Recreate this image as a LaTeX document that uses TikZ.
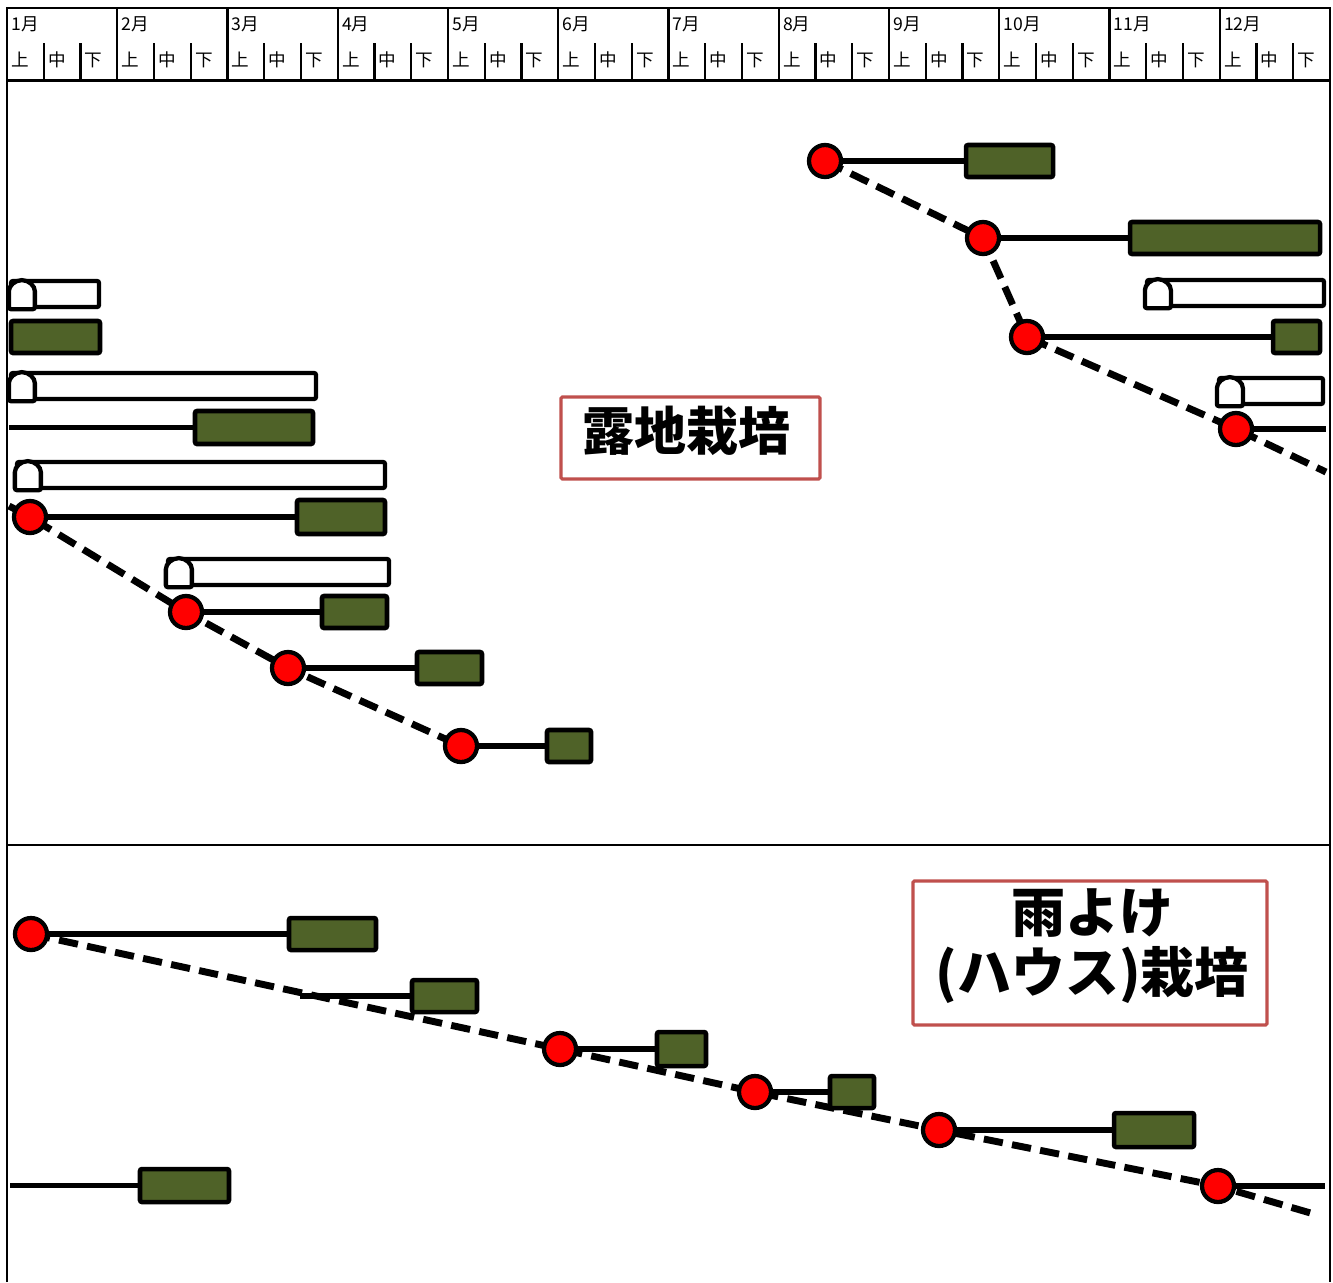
\documentclass[tikz,border=0pt]{standalone}
\usepackage{fontspec}
\newfontfamily\jp{Noto Sans CJK JP}
\usetikzlibrary{fit}
\definecolor{leaf}{RGB}{79,98,40}
\definecolor{labred}{RGB}{192,80,77}
\pgfdeclarelayer{back}
\pgfdeclarelayer{bg}
\pgfsetlayers{back,bg,main}
\newcommand\tunnelshape[5]{%
  \node[tun, fit={(#2,#3) (#4,#5)}] (#1) {};
  \draw[tun] (#1.south west) -- ++(0,-16) arc[start angle=180, end angle=0, radius=9.75pt] -- ++(0,16) -- cycle;
}
\begin{document}
\begin{tikzpicture}[x=0.75pt,y=-0.75pt,
  frame/.style={line width=1.5pt},
  gbox/.style={draw=black, fill=leaf, line width=3.4pt, rounded corners=1.5pt, inner sep=0pt},
  tun/.style={draw=black, fill=white, line width=3.2pt, rounded corners=1.5pt, inner sep=0pt},
  sow/.style={circle, draw=black, fill=red, line width=3.2pt, minimum size=24pt, inner sep=0pt},
  growline/.style={line width=4.4pt},
  seqline/.style={line width=5.2pt, dash pattern=on 14.5pt off 7pt},
  mlab/.style={anchor=west, inner sep=0pt, font=\jp\fontsize{13.2}{13.2}\selectfont},
  lab/.style={draw=labred, line width=2.4pt, rounded corners=1pt, inner sep=0pt},
  labtext/.style={font=\jp\bfseries\fontsize{39}{47}\selectfont, align=center, inner sep=0pt},
  labtextb/.style={font=\jp\bfseries\fontsize{40.5}{47}\selectfont, align=center, inner sep=0pt}
]
\useasboundingbox (0,0) rectangle (1333,1282);
\begin{pgfonlayer}{back}
\fill[white] (0,0) rectangle (1333,1282);
\end{pgfonlayer}
% frame and header
\draw[frame] (7,1282) -- (7,8) -- (1330,8) -- (1330,1282);
\draw[line width=2.25pt] (7,80) -- (1330,80);
\draw[line width=1.2pt] (7,845) -- (1330,845);
\foreach \m in {1,...,12}{
  \pgfmathsetmacro\xm{7+(\m-1)*110.25}
  \ifnum\m>1 \draw[line width=1.6pt] (\xm,8) -- (\xm,80); \fi
  \draw[line width=1.6pt] (\xm+36.75,43) -- (\xm+36.75,81);
  \draw[line width=1.6pt] (\xm+73.5,43) -- (\xm+73.5,81);
  \node[mlab] (mon\m) at (\xm+4,24) {{\m}月};
  \node[mlab] (up\m) at (\xm+4,60) {上};
  \node[mlab] (mid\m) at (\xm+40.75,60) {中};
  \node[mlab] (low\m) at (\xm+77.5,60) {下};
}
% ---------- open field (top) ----------
% right group
\node[sow] (c1) at (825,161) {};
\node[gbox, fit={(966,145) (1053,177)}] (b1) {};
\node[sow] (c2) at (983,238) {};
\node[gbox, fit={(1130,222) (1320,254)}] (b2) {};
\tunnelshape{tr1}{1147}{280}{1324}{306}
\node[sow] (c3) at (1027,337) {};
\node[gbox, fit={(1273,321) (1320,353)}] (b3) {};
\tunnelshape{tr2}{1219}{378}{1323}{404}
\node[sow] (c4) at (1236,429) {};
\coordinate (e4) at (1326,429);
\coordinate (d1) at (1326,472);
% left group
\tunnelshape{tl1}{11}{281}{99}{307}
\node[gbox, fit={(11,321) (100,353)}] (gb0) {};
\tunnelshape{tl2}{11}{373}{316}{399}
\coordinate (s1) at (9,427.5);
\node[gbox, fit={(195,411) (313,444)}] (b5) {};
\tunnelshape{tl3}{17}{462}{385}{488}
\node[sow] (c5) at (30,517) {};
\node[gbox, fit={(297,500) (385,534)}] (b6) {};
\tunnelshape{tl4}{168}{559}{389}{585}
\node[sow] (c6) at (186,612) {};
\node[gbox, fit={(322,596) (387,628)}] (b7) {};
\node[sow] (c7) at (288,668) {};
\node[gbox, fit={(417,652) (482,684)}] (b8) {};
\node[sow] (c8) at (461,746) {};
\node[gbox, fit={(547,730) (591,762)}] (b9) {};
\coordinate (d0) at (9,506);
% label
\node[lab, fit={(561,397) (820,479)}] (lab1) {};
\node[labtext] (lab1t) at (686,431) {露地栽培};
% ---------- rain shelter (bottom) ----------
\node[sow] (c9) at (31,934) {};
\node[gbox, fit={(289,918) (376,950)}] (b10) {};
\coordinate (s2) at (300,996);
\node[gbox, fit={(412,980) (477,1012)}] (b11) {};
\node[sow] (c10) at (560,1049) {};
\node[gbox, fit={(657,1032) (706,1066)}] (b12) {};
\node[sow] (c11) at (755,1092) {};
\node[gbox, fit={(830,1076) (874,1108)}] (b13) {};
\node[sow] (c12) at (939,1130) {};
\node[gbox, fit={(1114,1113) (1194,1147)}] (b14) {};
\node[sow] (c13) at (1218,1186) {};
\coordinate (e13) at (1325,1186);
\coordinate (s3) at (10,1185.5);
\node[gbox, fit={(140,1169) (229,1202)}] (b15) {};
\coordinate (d2) at (1314,1214);
\node[lab, fit={(913,881) (1267,1025)}] (lab2) {};
\node[labtextb] (lab2a) at (1092,913) {雨よけ};
\node[labtextb] (lab2b) at (1092,975) {(ハウス)栽培};
% ---------- connectors ----------
\begin{pgfonlayer}{bg}
  \draw[seqline] (c1.center) -- (c2.center) -- (c3.center) -- (c4.center) -- (d1);
  \draw[seqline] (d0) -- (c5.center) -- (c6.center) -- (c7.center) -- (c8.center);
  \draw[seqline] (c9.center) -- (c10.center) -- (c11.center) -- (c12.center) -- (c13.center) -- (d2);
  \draw[growline] (c1) -- (b1);
  \draw[growline] (c2) -- (b2);
  \draw[growline] (c3) -- (b3);
  \draw[growline] (c4) -- (e4);
  \draw[growline] (s1) -- (b5);
  \draw[growline] (c5) -- (b6);
  \draw[growline] (c6) -- (b7);
  \draw[growline] (c7) -- (b8);
  \draw[growline] (c8) -- (b9);
  \draw[growline] (c9) -- (b10);
  \draw[growline] (s2) -- (b11);
  \draw[growline] (c10) -- (b12);
  \draw[growline] (c11) -- (b13);
  \draw[growline] (c12) -- (b14);
  \draw[growline] (c13) -- (e13);
  \draw[growline] (s3) -- (b15);
\end{pgfonlayer}
\end{tikzpicture}
\end{document}
